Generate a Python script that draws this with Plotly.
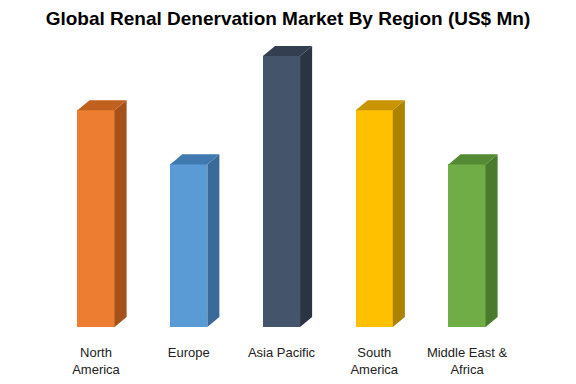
import plotly.graph_objects as go

categories = ["North<br>America", "Europe", "Asia Pacific", "South<br>America", "Middle East &<br>Africa"]
values = [4.0, 3.0, 5.0, 4.0, 3.0]
front_colors = ["#ED7D31", "#5B9BD5", "#44546A", "#FFC000", "#70AD47"]
top_colors = ["#C0611F", "#4079B0", "#333F50", "#C89500", "#548A33"]
side_colors = ["#A4521A", "#3A6B98", "#2A3442", "#AD8200", "#4A7A2C"]

bar_w = 0.4
dx = 0.13
dy = 0.185

fig = go.Figure()
xs = list(range(len(categories)))
fig.add_trace(go.Bar(x=xs, y=values, width=bar_w, marker=dict(color=front_colors, line=dict(width=0)),
                     hoverinfo="skip", showlegend=False))
for i, v in enumerate(values):
    l, r = i - bar_w / 2, i + bar_w / 2
    fig.add_trace(go.Scatter(x=[r, r, r + dx, r + dx, r], y=[0, v, v + dy, dy, 0], fill="toself",
                             fillcolor=side_colors[i], line=dict(width=0), mode="lines",
                             hoverinfo="skip", showlegend=False))
    fig.add_trace(go.Scatter(x=[l, r, r + dx, l + dx, l], y=[v, v, v + dy, v + dy, v], fill="toself",
                             fillcolor=top_colors[i], line=dict(width=0), mode="lines",
                             hoverinfo="skip", showlegend=False))

px_per_unit_x = 92.75
x0 = -88 / px_per_unit_x
x1 = x0 + 576 / px_per_unit_x
fig.update_layout(
    width=576, height=384,
    margin=dict(l=0, r=0, t=0, b=65),
    paper_bgcolor="white", plot_bgcolor="white",
    title=dict(text="<b>Global Renal Denervation Market By Region (US$ Mn)</b>", x=0.486, xanchor="center",
               y=0.974, yanchor="middle", font=dict(family="Liberation Sans, Arial", size=19, color="black")),
    xaxis=dict(range=[x0, x1], tickmode="array", tickvals=xs, ticktext=categories, showgrid=False,
               zeroline=False, showline=False, ticks="", ticklabelstandoff=16,
               tickfont=dict(family="Liberation Sans, Arial", size=13, color="#222222")),
    yaxis=dict(range=[0, 319 / 54.2], visible=False, showgrid=False, zeroline=False),
    bargap=0,
)
fig.write_html("out.html")
